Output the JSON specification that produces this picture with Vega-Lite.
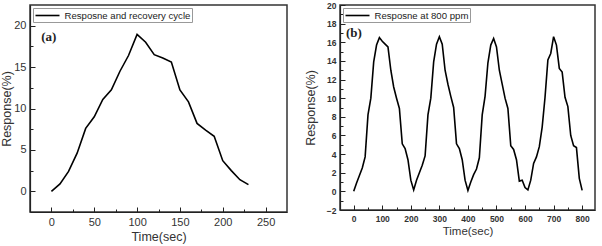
{
  "$schema": "https://vega.github.io/schema/vega-lite/v6.json",
  "padding": {"left": 0, "top": 0, "right": 3, "bottom": 2},
  "spacing": 15,
  "config": {
    "view": {"stroke": "#333", "strokeWidth": 1.5},
    "font": "Liberation Sans",
    "axis": {"grid": false, "domainColor": "#222", "domainWidth": 1.2, "tickColor": "#222", "tickWidth": 1, "labelColor": "#333", "titleColor": "#333", "titleFontWeight": "normal", "labelFont": "Liberation Sans", "titleFont": "Liberation Sans", "labelOverlap": false, "labelFlush": false, "labelBound": false},
    "legend": {"orient": "top-left", "offset": 3, "symbolType": "M-2.4,0H2.4", "symbolSize": 100, "symbolOffset": 7, "symbolStrokeWidth": 1.6, "strokeColor": "#999", "fillColor": "white", "padding": 1.5, "labelFontSize": 9.6, "labelColor": "#222", "labelOffset": 11, "title": null, "labelFont": "Liberation Sans"}
  },
  "resolve": {"scale": {"color": "independent", "x": "independent", "y": "independent"}, "legend": {"color": "independent"}},
  "hconcat": [
    {
      "width": 257,
      "height": 207,
      "resolve": {"axis": {"x": "independent", "y": "independent"}},
      "layer": [
        {
          "data": {"values": [
            {"t": 0, "r": 0}, {"t": 10, "r": 0.9}, {"t": 20, "r": 2.4}, {"t": 30, "r": 4.6}, {"t": 40, "r": 7.6},
            {"t": 50, "r": 9.0}, {"t": 60, "r": 11.1}, {"t": 70, "r": 12.25}, {"t": 80, "r": 14.5}, {"t": 90, "r": 16.4},
            {"t": 100, "r": 18.95}, {"t": 110, "r": 18.0}, {"t": 120, "r": 16.5}, {"t": 130, "r": 16.1}, {"t": 140, "r": 15.6},
            {"t": 150, "r": 12.25}, {"t": 160, "r": 10.8}, {"t": 170, "r": 8.2}, {"t": 180, "r": 7.4}, {"t": 190, "r": 6.65},
            {"t": 200, "r": 3.7}, {"t": 210, "r": 2.5}, {"t": 220, "r": 1.4}, {"t": 230, "r": 0.8}
          ]},
          "mark": {"type": "line", "color": "black", "strokeWidth": 1.6},
          "encoding": {
            "x": {"field": "t", "type": "quantitative", "scale": {"domain": [-25, 275], "nice": false, "zero": false},
              "axis": {"orient": "bottom", "values": [0, 50, 100, 150, 200, 250], "labelOverlap": false, "tickSize": -5,
                "labelFontSize": 11, "labelPadding": 9, "title": "Time(sec)", "titleFontSize": 12.5, "titlePadding": 3}},
            "y": {"field": "r", "type": "quantitative", "scale": {"domain": [-2.5, 22.5], "nice": false, "zero": false},
              "axis": {"orient": "left", "values": [0, 5, 10, 15, 20], "labelOverlap": false, "tickSize": -5,
                "labelFontSize": 11, "labelPadding": 9, "title": "Response(%)", "titleFontSize": 12.5, "titlePadding": 0}},
            "color": {"datum": "Resposne and recovery cycle", "type": "nominal", "scale": {"range": ["black"]}}
          }
        },
        {
          "data": {"values": [{"label": "(a)", "t": -12, "r": 18.6}]},
          "mark": {"type": "text", "font": "Liberation Serif", "fontWeight": "bold", "fontSize": 13, "align": "left", "baseline": "middle", "color": "#222"},
          "encoding": {
            "x": {"field": "t", "type": "quantitative",
              "axis": {"orient": "bottom", "values": [25, 75, 125, 175, 225], "labels": false, "domain": false, "tickSize": -3, "title": null}},
            "y": {"field": "r", "type": "quantitative",
              "axis": {"orient": "left", "values": [2.5, 7.5, 12.5, 17.5], "labels": false, "domain": false, "tickSize": -3, "title": null}},
            "text": {"field": "label"}
          }
        }
      ]
    },
    {
      "width": 255,
      "height": 205,
      "resolve": {"axis": {"x": "independent", "y": "independent"}},
      "layer": [
        {
          "data": {"values": [
            {"t": 0, "r": 0}, {"t": 10, "r": 0.9}, {"t": 20, "r": 1.7}, {"t": 30, "r": 2.5}, {"t": 40, "r": 3.7},
            {"t": 50, "r": 8.2}, {"t": 60, "r": 10.0}, {"t": 70, "r": 13.9}, {"t": 80, "r": 15.7}, {"t": 90, "r": 16.5},
            {"t": 100, "r": 16.1}, {"t": 110, "r": 15.8}, {"t": 120, "r": 15.5}, {"t": 130, "r": 13.0}, {"t": 140, "r": 11.2},
            {"t": 150, "r": 10.0}, {"t": 160, "r": 8.9}, {"t": 170, "r": 5.1}, {"t": 180, "r": 4.6}, {"t": 190, "r": 3.4},
            {"t": 200, "r": 1.2}, {"t": 210, "r": 0.15}, {"t": 220, "r": 1.2}, {"t": 230, "r": 2.0}, {"t": 240, "r": 2.8},
            {"t": 250, "r": 3.8}, {"t": 260, "r": 8.2}, {"t": 270, "r": 10.0}, {"t": 280, "r": 13.9}, {"t": 290, "r": 15.8},
            {"t": 300, "r": 16.6}, {"t": 310, "r": 15.8}, {"t": 320, "r": 13.0}, {"t": 330, "r": 11.5}, {"t": 340, "r": 10.2},
            {"t": 350, "r": 9.0}, {"t": 360, "r": 5.1}, {"t": 370, "r": 4.6}, {"t": 380, "r": 3.4}, {"t": 390, "r": 1.2},
            {"t": 400, "r": 0.1}, {"t": 410, "r": 1.0}, {"t": 420, "r": 1.8}, {"t": 430, "r": 2.4}, {"t": 440, "r": 3.6},
            {"t": 450, "r": 8.2}, {"t": 460, "r": 10.2}, {"t": 470, "r": 13.8}, {"t": 480, "r": 15.7}, {"t": 490, "r": 16.4},
            {"t": 500, "r": 15.5}, {"t": 510, "r": 13.0}, {"t": 520, "r": 11.5}, {"t": 530, "r": 10.0}, {"t": 540, "r": 8.9},
            {"t": 550, "r": 4.9}, {"t": 560, "r": 4.5}, {"t": 570, "r": 3.4}, {"t": 580, "r": 1.1}, {"t": 590, "r": 1.2},
            {"t": 600, "r": 0.4}, {"t": 610, "r": 0.15}, {"t": 620, "r": 1.2}, {"t": 630, "r": 3.0}, {"t": 640, "r": 3.7},
            {"t": 650, "r": 4.8}, {"t": 660, "r": 6.9}, {"t": 670, "r": 10.1}, {"t": 680, "r": 14.1}, {"t": 690, "r": 14.8},
            {"t": 700, "r": 16.6}, {"t": 710, "r": 15.7}, {"t": 720, "r": 13.2}, {"t": 730, "r": 12.8}, {"t": 740, "r": 10.1},
            {"t": 750, "r": 9.1}, {"t": 760, "r": 6.0}, {"t": 770, "r": 4.9}, {"t": 780, "r": 4.7}, {"t": 790, "r": 1.4},
            {"t": 800, "r": 0.1}
          ]},
          "mark": {"type": "line", "color": "black", "strokeWidth": 1.6},
          "encoding": {
            "x": {"field": "t", "type": "quantitative", "scale": {"domain": [-48, 845], "nice": false, "zero": false},
              "axis": {"orient": "bottom", "values": [0, 100, 200, 300, 400, 500, 600, 700, 800], "labelOverlap": false, "tickSize": -5,
                "labelFontSize": 8.5, "labelFontWeight": "bold", "labelPadding": 9, "title": "Time(sec)", "titleFontSize": 11.5, "titlePadding": 3}},
            "y": {"field": "r", "type": "quantitative", "scale": {"domain": [-2, 20], "nice": false, "zero": false},
              "axis": {"orient": "left", "values": [-2, 0, 2, 4, 6, 8, 10, 12, 14, 16, 18, 20], "labelOverlap": false, "tickSize": -5,
                "labelFontSize": 8.5, "labelFontWeight": "bold", "labelPadding": 9, "title": "Response(%)", "titleFontSize": 12.5, "titlePadding": 9}},
            "color": {"datum": "Resposne at 800 ppm", "type": "nominal", "scale": {"range": ["black"]}}
          }
        },
        {
          "data": {"values": [{"label": "(b)", "t": -27, "r": 17.0}]},
          "mark": {"type": "text", "font": "Liberation Serif", "fontWeight": "bold", "fontSize": 13, "align": "left", "baseline": "middle", "color": "#222"},
          "encoding": {
            "x": {"field": "t", "type": "quantitative",
              "axis": {"orient": "bottom", "values": [50, 150, 250, 350, 450, 550, 650, 750], "labels": false, "domain": false, "tickSize": -3, "title": null}},
            "y": {"field": "r", "type": "quantitative",
              "axis": {"orient": "left", "values": [-1, 1, 3, 5, 7, 9, 11, 13, 15, 17, 19], "labels": false, "domain": false, "tickSize": -3, "title": null}},
            "text": {"field": "label"}
          }
        }
      ]
    }
  ]
}
